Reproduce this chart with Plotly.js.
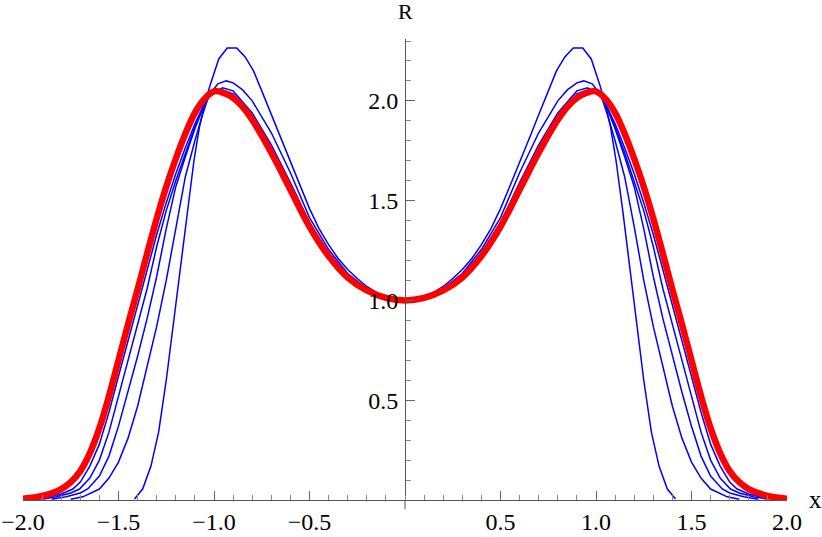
<!DOCTYPE html>
<html>
<head>
<meta charset="utf-8">
<script src="https://cdn.plot.ly/plotly-3.0.1.min.js"></script>
<style>html,body{margin:0;padding:0;background:#fff;}#chart{width:822px;height:537px;}</style>
</head>
<body>
<div id="chart"></div>
<script>
// Red (limit) curve
const redX = [-2.0,-1.9,-1.8,-1.75,-1.7,-1.65,-1.6,-1.55,-1.5,-1.45,-1.4,-1.35,-1.3,-1.25,-1.2,-1.15,-1.1,-1.05,-1.0,-0.95,-0.9,-0.85,-0.8,-0.7,-0.6,-0.5,-0.4,-0.3,-0.2,-0.1,0,
  0.1,0.2,0.3,0.4,0.5,0.6,0.7,0.8,0.85,0.9,0.95,1.0,1.05,1.1,1.15,1.2,1.25,1.3,1.35,1.4,1.45,1.5,1.55,1.6,1.65,1.7,1.75,1.8,1.9,2.0];
const redY = [0.006,0.02,0.055,0.09,0.145,0.235,0.36,0.52,0.70,0.88,1.055,1.235,1.41,1.57,1.71,1.835,1.94,2.01,2.048,2.04,2.015,1.97,1.905,1.74,1.555,1.37,1.222,1.115,1.05,1.013,1.0,
  1.013,1.05,1.115,1.222,1.37,1.555,1.74,1.905,1.97,2.015,2.04,2.048,2.01,1.94,1.835,1.71,1.57,1.41,1.235,1.055,0.88,0.70,0.52,0.36,0.235,0.145,0.09,0.055,0.02,0.006];

// Blue curves (successive approximations), 1 = narrowest
const b1X = [-1.416,-1.373,-1.33,-1.29,-1.25,-1.21,-1.175,-1.14,-1.105,-1.076,-1.05,-1.02,-0.975,-0.931,-0.881,-0.837,-0.793,-0.75,-0.7,-0.65,-0.6,-0.55,-0.5,-0.45,-0.4,-0.35,-0.3,-0.25,-0.2,-0.15,-0.1,-0.05,0,
  0.05,0.1,0.15,0.2,0.25,0.3,0.35,0.4,0.45,0.5,0.55,0.6,0.65,0.7,0.75,0.793,0.837,0.881,0.931,0.975,1.02,1.05,1.076,1.105,1.14,1.175,1.21,1.25,1.29,1.33,1.373,1.416];
const b1Y = [0.005,0.056,0.17,0.34,0.60,0.90,1.17,1.45,1.70,1.87,1.98,2.08,2.21,2.265,2.265,2.22,2.15,2.05,1.93,1.81,1.69,1.575,1.46,1.36,1.28,1.21,1.155,1.11,1.07,1.04,1.018,1.005,1.0,
  1.005,1.018,1.04,1.07,1.11,1.155,1.21,1.28,1.36,1.46,1.575,1.69,1.81,1.93,2.05,2.15,2.22,2.265,2.265,2.21,2.08,1.98,1.87,1.70,1.45,1.17,0.90,0.60,0.34,0.17,0.056,0.005];

const b2X = [-1.75,-1.687,-1.6,-1.55,-1.5,-1.45,-1.4,-1.35,-1.3,-1.25,-1.2,-1.15,-1.1,-1.06,-1.025,-0.98,-0.936,-0.9,-0.85,-0.8,-0.7,-0.6,-0.5,-0.4,-0.3,-0.2,-0.1,0,
  0.1,0.2,0.3,0.4,0.5,0.6,0.7,0.8,0.85,0.9,0.936,0.98,1.025,1.06,1.1,1.15,1.2,1.25,1.3,1.35,1.4,1.45,1.5,1.55,1.6,1.687,1.75];
const b2Y = [0.004,0.016,0.055,0.11,0.19,0.31,0.47,0.67,0.87,1.10,1.37,1.62,1.80,1.93,2.03,2.085,2.10,2.09,2.055,2.0,1.84,1.64,1.415,1.255,1.135,1.06,1.015,1.0,
  1.015,1.06,1.135,1.255,1.415,1.64,1.84,2.0,2.055,2.09,2.10,2.085,2.03,1.93,1.80,1.62,1.37,1.10,0.87,0.67,0.47,0.31,0.19,0.11,0.055,0.016,0.004];

const b3X = [-1.85,-1.774,-1.7,-1.661,-1.6,-1.55,-1.5,-1.45,-1.4,-1.35,-1.3,-1.25,-1.2,-1.15,-1.1,-1.05,-1.02,-0.955,-0.9,-0.8,-0.7,-0.6,-0.5,-0.4,-0.3,-0.2,-0.1,0,
  0.1,0.2,0.3,0.4,0.5,0.6,0.7,0.8,0.9,0.955,1.02,1.05,1.1,1.15,1.2,1.25,1.3,1.35,1.4,1.45,1.5,1.55,1.6,1.661,1.7,1.774,1.85];
const b3Y = [0.004,0.016,0.035,0.055,0.12,0.22,0.37,0.54,0.72,0.91,1.12,1.36,1.57,1.72,1.86,1.985,2.03,2.065,2.05,1.94,1.78,1.59,1.39,1.238,1.125,1.055,1.014,1.0,
  1.014,1.055,1.125,1.238,1.39,1.59,1.78,1.94,2.05,2.065,2.03,1.985,1.86,1.72,1.57,1.36,1.12,0.91,0.72,0.54,0.37,0.22,0.12,0.055,0.035,0.016,0.004];

const b4X = [-1.9,-1.826,-1.75,-1.704,-1.65,-1.6,-1.55,-1.5,-1.45,-1.4,-1.35,-1.3,-1.25,-1.2,-1.15,-1.1,-1.05,-1.02,-0.965,-0.9,-0.8,-0.7,-0.6,-0.5,-0.4,-0.3,-0.2,-0.1,0,
  0.1,0.2,0.3,0.4,0.5,0.6,0.7,0.8,0.9,0.965,1.02,1.05,1.1,1.15,1.2,1.25,1.3,1.35,1.4,1.45,1.5,1.55,1.6,1.65,1.704,1.75,1.826,1.9];
const b4Y = [0.004,0.016,0.035,0.055,0.11,0.2,0.34,0.52,0.70,0.88,1.06,1.27,1.45,1.60,1.74,1.87,1.985,2.03,2.058,2.035,1.925,1.76,1.572,1.38,1.232,1.12,1.053,1.013,1.0,
  1.013,1.053,1.12,1.232,1.38,1.572,1.76,1.925,2.035,2.058,2.03,1.985,1.87,1.74,1.60,1.45,1.27,1.06,0.88,0.70,0.52,0.34,0.2,0.11,0.055,0.035,0.016,0.004];

const b5X = [-1.95,-1.861,-1.8,-1.739,-1.7,-1.65,-1.6,-1.55,-1.5,-1.45,-1.4,-1.35,-1.3,-1.25,-1.2,-1.15,-1.1,-1.05,-1.02,-0.975,-0.9,-0.8,-0.7,-0.6,-0.5,-0.4,-0.3,-0.2,-0.1,0,
  0.1,0.2,0.3,0.4,0.5,0.6,0.7,0.8,0.9,0.975,1.02,1.05,1.1,1.15,1.2,1.25,1.3,1.35,1.4,1.45,1.5,1.55,1.6,1.65,1.7,1.739,1.8,1.861,1.95];
const b5Y = [0.003,0.016,0.03,0.055,0.09,0.17,0.28,0.44,0.62,0.80,0.975,1.155,1.33,1.49,1.635,1.765,1.885,1.985,2.03,2.052,2.025,1.915,1.75,1.563,1.375,1.227,1.118,1.051,1.013,1.0,
  1.013,1.051,1.118,1.227,1.375,1.563,1.75,1.915,2.025,2.052,2.03,1.985,1.885,1.765,1.635,1.49,1.33,1.155,0.975,0.80,0.62,0.44,0.28,0.17,0.09,0.055,0.03,0.016,0.003];

const xTickVals = [-2,-1.5,-1,-0.5,0.5,1,1.5,2];
const xTickText = ['\u22122.0','\u22121.5','\u22121.0','\u22120.5','0.5','1.0','1.5','2.0'];
const yTickVals = [0.5,1,1.5,2];
const yTickText = ['0.5','1.0','1.5','2.0'];

const blueSets = [[b1X,b1Y],[b2X,b2Y],[b3X,b3Y],[b4X,b4Y],[b5X,b5Y]];
const traces = blueSets.map(s => ({
  x: s[0], y: s[1], type: 'scatter', mode: 'lines',
  line: {color: 'rgb(0,0,255)', width: 1.5}, hoverinfo: 'skip'
}));
traces.push({
  x: redX, y: redY, type: 'scatter', mode: 'lines',
  line: {color: 'rgb(255,0,0)', width: 6.5, shape: 'spline', smoothing: 1}, hoverinfo: 'skip'
});

const serif = 'Times New Roman, Liberation Serif, Times, serif';
const tickFont = {family: serif, size: 24, color: '#000'};
const layout = {
  width: 822, height: 537,
  margin: {l: 23, r: 35, t: 39, b: 37, pad: 0},
  paper_bgcolor: '#fff', plot_bgcolor: '#fff',
  showlegend: false,
  font: {family: serif},
  xaxis: {
    range: [-2, 2], showgrid: false, zeroline: false,
    showline: true, linecolor: '#555', linewidth: 1,
    tickmode: 'array', tickvals: xTickVals, ticktext: xTickText,
    ticks: 'inside', ticklen: 9, tickcolor: '#666', tickwidth: 1,
    minor: {dtick: 0.1, tick0: 0, ticks: 'inside', ticklen: 5, tickcolor: '#888', tickwidth: 1},
    tickfont: tickFont, ticklabelstandoff: 0
  },
  yaxis: {
    range: [0, 2.31], showgrid: false, zeroline: false,
    anchor: 'free', position: 0.5, side: 'left',
    showline: true, linecolor: '#555', linewidth: 1,
    tickmode: 'array', tickvals: yTickVals, ticktext: yTickText,
    ticks: 'inside', ticklen: 9, tickcolor: '#666', tickwidth: 1,
    minor: {dtick: 0.1, tick0: 0, ticks: 'inside', ticklen: 5, tickcolor: '#888', tickwidth: 1},
    tickfont: tickFont, ticklabelstandoff: 2
  },
  shapes: [{type: 'line', xref: 'x', yref: 'paper', x0: 0, x1: 0, y0: 0, y1: -0.02, line: {color: '#555', width: 1}}],
  annotations: [
    {text: 'R', xref: 'x', yref: 'paper', x: 0, y: 1, yshift: 28, showarrow: false, xanchor: 'center', yanchor: 'middle',
     font: {family: serif, size: 22, color: '#000'}},
    {text: 'x', xref: 'paper', yref: 'y', x: 1, y: 0, xshift: 28, yshift: 1, showarrow: false, xanchor: 'center', yanchor: 'middle',
     font: {family: serif, size: 25, color: '#000'}}
  ]
};
Plotly.newPlot('chart', traces, layout, {staticPlot: true, displayModeBar: false});
</script>
</body>
</html>
